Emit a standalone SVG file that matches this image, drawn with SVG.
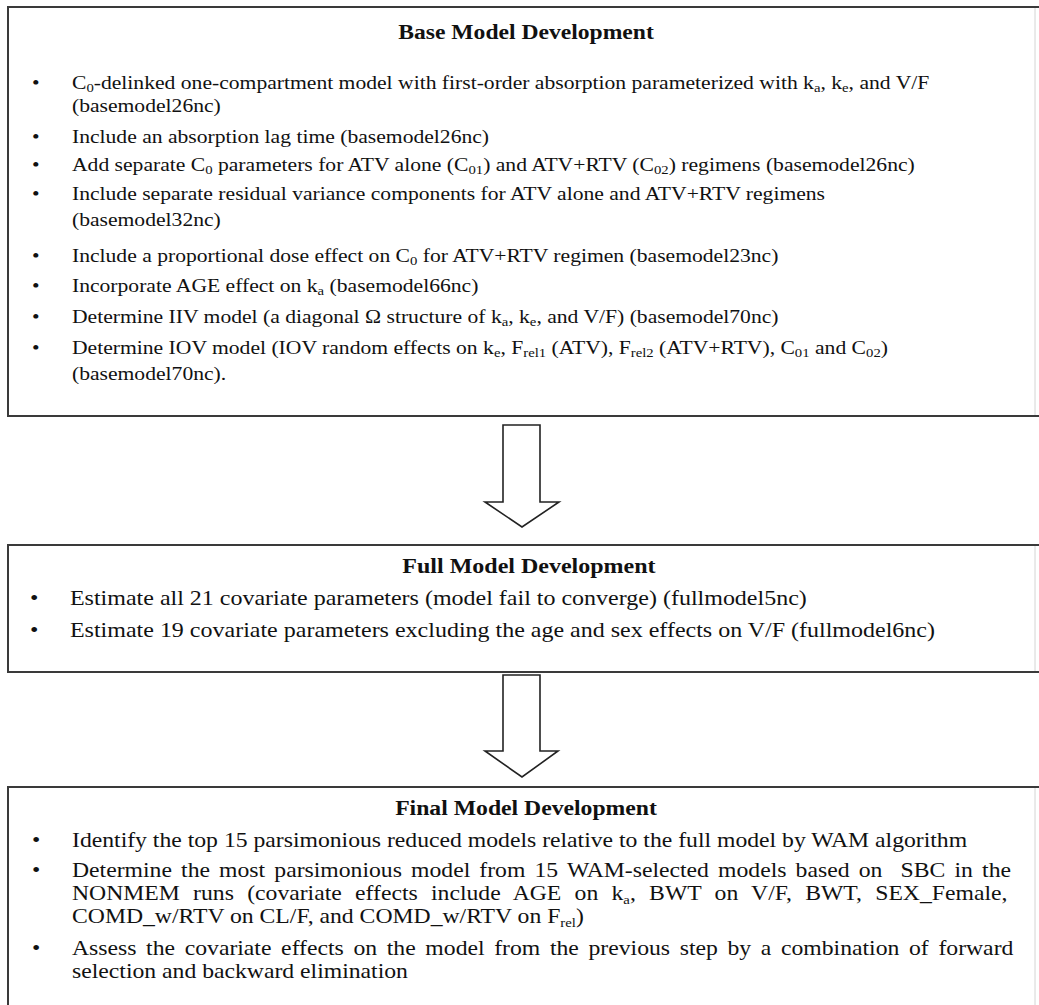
<svg xmlns="http://www.w3.org/2000/svg" width="1039" height="1005" viewBox="0 0 1039 1005">
<style>
.t{font-family:"Liberation Serif","Times New Roman",serif;fill:#111}
.title{font-weight:bold;font-size:20px;text-anchor:middle}
.s11{font-size:18.33px}
.s12{font-size:20px}
.sub{font-size:12.5px}
.box{fill:none;stroke:#3a3a3a;stroke-width:2}
.edge{stroke:#d4d4d4;stroke-width:1}
.arr{fill:#fff;stroke:#222;stroke-width:1.6;stroke-linejoin:miter}
</style>
<rect width="1039" height="1005" fill="#fff"/>

<g id="node-base">
<rect class="box" x="8" y="7" width="1040" height="409"/>
<line class="edge" x1="1035" y1="8" x2="1035" y2="415"/>
<g transform="scale(1.18,1)">
<text class="t title" x="445.8" y="39">Base Model Development</text>
<g class="t s11">
<text x="27.1" y="89">•</text>
<text x="61" y="89">C<tspan class="sub" dy="3.5">0</tspan><tspan dy="-3.5">-delinked one-compartment model with first-order absorption parameterized with k</tspan><tspan class="sub" dy="3.5">a</tspan><tspan dy="-3.5">, k</tspan><tspan class="sub" dy="3.5">e</tspan><tspan dy="-3.5">, and V/F</tspan></text>
<text x="61" y="112">(basemodel26nc)</text>
<text x="27.1" y="143">•</text>
<text x="61" y="143">Include an absorption lag time (basemodel26nc)</text>
<text x="27.1" y="171">•</text>
<text x="61" y="171">Add separate C<tspan class="sub" dy="3.5">0</tspan><tspan dy="-3.5"> parameters for ATV alone (C</tspan><tspan class="sub" dy="3.5">01</tspan><tspan dy="-3.5">) and ATV+RTV (C</tspan><tspan class="sub" dy="3.5">02</tspan><tspan dy="-3.5">) regimens (basemodel26nc)</tspan></text>
<text x="27.1" y="200">•</text>
<text x="61" y="200">Include separate residual variance components for ATV alone and ATV+RTV regimens</text>
<text x="61" y="226">(basemodel32nc)</text>
<text x="27.1" y="262">•</text>
<text x="61" y="262">Include a proportional dose effect on C<tspan class="sub" dy="3.5">0</tspan><tspan dy="-3.5"> for ATV+RTV regimen (basemodel23nc)</tspan></text>
<text x="27.1" y="292">•</text>
<text x="61" y="292">Incorporate AGE effect on k<tspan class="sub" dy="3.5">a</tspan><tspan dy="-3.5"> (basemodel66nc)</tspan></text>
<text x="27.1" y="323">•</text>
<text x="61" y="323">Determine IIV model (a diagonal Ω structure of k<tspan class="sub" dy="3.5">a</tspan><tspan dy="-3.5">, k</tspan><tspan class="sub" dy="3.5">e</tspan><tspan dy="-3.5">, and V/F) (basemodel70nc)</tspan></text>
<text x="27.1" y="354">•</text>
<text x="61" y="354">Determine IOV model (IOV random effects on k<tspan class="sub" dy="3.5">e</tspan><tspan dy="-3.5">, F</tspan><tspan class="sub" dy="3.5">rel1</tspan><tspan dy="-3.5"> (ATV), F</tspan><tspan class="sub" dy="3.5">rel2</tspan><tspan dy="-3.5"> (ATV+RTV), C</tspan><tspan class="sub" dy="3.5">01</tspan><tspan dy="-3.5"> and C</tspan><tspan class="sub" dy="3.5">02</tspan><tspan dy="-3.5">)</tspan></text>
<text x="61" y="380">(basemodel70nc).</text>
</g>
</g>
</g>

<g id="node-full">
<rect class="box" x="8" y="545" width="1040" height="127"/>
<line class="edge" x1="1035" y1="546" x2="1035" y2="671"/>
<g transform="scale(1.2,1)">
<text class="t title" x="440.8" y="573">Full Model Development</text>
<g class="t s12">
<text x="25" y="605">•</text>
<text x="58.3" y="605">Estimate all 21 covariate parameters (model fail to converge) (fullmodel5nc)</text>
<text x="25" y="637">•</text>
<text x="58.3" y="637">Estimate 19 covariate parameters excluding the age and sex effects on V/F (fullmodel6nc)</text>
</g>
</g>
</g>

<g id="node-final">
<rect class="box" x="8" y="787" width="1040" height="240"/>
<line class="edge" x1="1035" y1="788" x2="1035" y2="1005"/>
<g transform="scale(1.185,1)">
<text class="t title" x="443.9" y="815">Final Model Development</text>
<g class="t s12">
<text x="27" y="847">•</text>
<text x="60.76" y="847">Identify the top 15 parsimonious reduced models relative to the full model by WAM algorithm</text>
<text x="27" y="877">•</text>
<text x="60.76" y="877" word-spacing="2.72" style="white-space:pre">Determine the most parsimonious model from 15 WAM-selected models based on  SBC in the</text>
<text x="60.76" y="900" word-spacing="6.2">NONMEM runs (covariate effects include AGE on k<tspan class="sub" dy="4">a</tspan><tspan dy="-4">, BWT on V/F, BWT, SEX_Female,</tspan></text>
<text x="60.76" y="923">COMD_w/RTV on CL/F, and COMD_w/RTV on F<tspan class="sub" dy="4">rel</tspan><tspan dy="-4">)</tspan></text>
<text x="27" y="955">•</text>
<text x="60.76" y="955" word-spacing="3.16">Assess the covariate effects on the model from the previous step by a combination of forward</text>
<text x="60.76" y="978">selection and backward elimination</text>
</g>
</g>
</g>

<g id="connectors">
<polygon class="arr" points="503,425 540,425 540,502 559,502 522,527 485,502 503,502"/>
<polygon class="arr" points="503,675 540,675 540,751 558,751 522,777 485,751 503,751"/>
</g>
</svg>
